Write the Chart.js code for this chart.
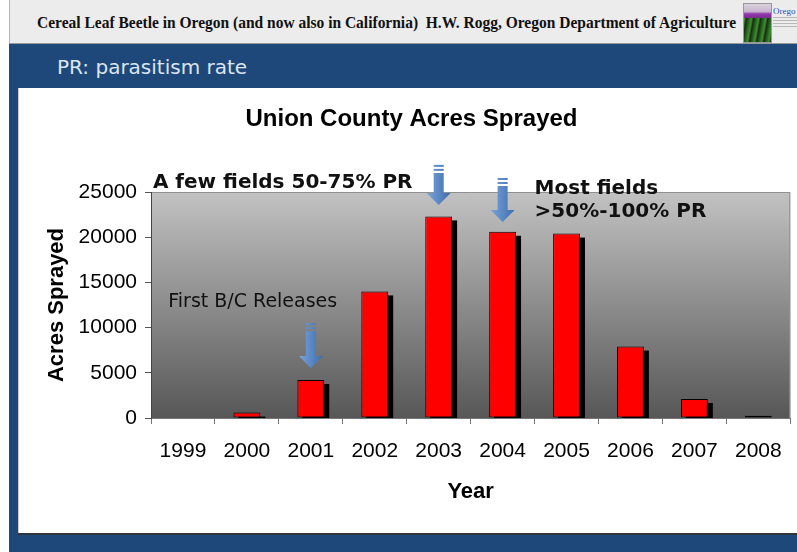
<!DOCTYPE html>
<html>
<head>
<meta charset="utf-8">
<script src="https://cdn.jsdelivr.net/npm/chart.js@4.4.1/dist/chart.umd.min.js"></script>
<style>
  html, body { margin: 0; padding: 0; background: #fff; }
  body { width: 797px; height: 552px; position: relative; overflow: hidden; }
  #header {
    position: absolute; left: 9px; top: 0; width: 788px; height: 43px;
    background: #ececec; border-left: 1px solid #b5b5b5; border-bottom: 1px solid #9a9a9a;
  }
  #header-text {
    position: absolute; left: 27px; top: 14px; white-space: nowrap;
    font: bold 16px "Liberation Serif", "DejaVu Serif", serif; color: #111;
    transform-origin: 0 0;
  }
  #logo {
    position: absolute; left: 743px; top: 3px; width: 27px; height: 38px;
    background:
      linear-gradient(to bottom, #d9d3dc 0%, #c7b4cf 20%, #9437b0 26%, #7b2f93 36%, transparent 36%),
      repeating-linear-gradient(100deg, #1f5a1c 0px, #3f8f2e 3px, #1d2a14 5px, #1f5a1c 7px);
    border: 1px solid #999;
  }
  #logo-text { position: absolute; left: 773px; top: 6px; font: 9px "Liberation Serif", serif; color: #2a52be; }
  #logo-sub { position: absolute; left: 773px; top: 17px; width: 24px; height: 12px;
    background: repeating-linear-gradient(to bottom, #b8b8b8 0 1px, transparent 1px 3px); }
  #band { position: absolute; left: 9px; top: 44px; width: 788px; height: 508px; background: #1f487a; }
  #subtitle {
    position: absolute; left: 57px; top: 55px; color: #dbe5f1;
    font: 20px "DejaVu Sans", "Open Sans", sans-serif;
  }
  #panel {
    position: absolute; left: 18px; top: 88px; width: 779px; height: 445px; background: #fff;
    border-left: 1px solid #c9c9c9; box-sizing: border-box;
    box-shadow: 0 2px 0 #2e3440;
  }
  #chart-wrap { position: absolute; left: 18px; top: 88px; width: 779px; height: 445px; }
</style>
</head>
<body>
<div id="header">
  <div id="header-text">Cereal Leaf Beetle in Oregon (and now also in California)&nbsp; H.W. Rogg, Oregon Department of Agriculture</div>
</div>
<div id="logo"></div>
<div id="logo-text">Orego</div>
<div id="logo-sub"></div>
<div id="band"></div>
<div id="subtitle">PR: parasitism rate</div>
<div id="panel"></div>
<div id="chart-wrap"><canvas id="chart"></canvas></div>

<script>
// fit the header line to the width it takes on the slide
const ht = document.getElementById('header-text');
ht.style.transform = 'scaleX(' + (699 / ht.scrollWidth) + ')';

// data
const years = ['1999', '2000', '2001', '2002', '2003', '2004', '2005', '2006', '2007', '2008'];
const acres = [0, 600, 4200, 14000, 22300, 20600, 20400, 7900, 2100, 250];
const yTicks = [0, 5000, 10000, 15000, 20000, 25000];

// arrows: category, top value, tip value
const arrowYears = ['2001', '2003', '2004'];
const arrowTop = [10500, 28000, 26550];
const arrowTip = [5530, 23560, 21680];

// notes: text, category index of left edge, value at text middle
const noteText = ['A few fields 50-75% PR', 'Most fields', '>50%-100% PR', 'First B/C Releases'];
const noteIndex = [-0.47, 5.5, 5.5, -0.23];
const noteValue = [26000, 25330, 22780, 12830];
const noteBold = [true, true, true, false];

const plotBackground = {
    id: 'plotBackground',
    beforeDraw(chart) {
        const { ctx, chartArea: a } = chart;
        const g = ctx.createLinearGradient(0, a.top, 0, a.bottom);
        g.addColorStop(0, '#c2c2c2');
        g.addColorStop(1, '#575757');
        ctx.save();
        ctx.fillStyle = g;
        ctx.fillRect(a.left, a.top, a.right - a.left, a.bottom - a.top);
        ctx.strokeStyle = '#8f8f8f';
        ctx.lineWidth = 1;
        ctx.beginPath();
        ctx.moveTo(a.left, a.top + 0.5);
        ctx.lineTo(a.right - 0.5, a.top + 0.5);
        ctx.lineTo(a.right - 0.5, a.bottom);
        ctx.stroke();
        ctx.restore();
    }
};

// black drop shadow behind every bar
const barShadow = {
    id: 'barShadow',
    beforeDatasetsDraw(chart) {
        const { ctx, chartArea: a } = chart;
        const bars = chart.getDatasetMeta(0).data;
        ctx.save();
        ctx.beginPath();
        ctx.rect(a.left, a.top, a.right - a.left, a.bottom - a.top);
        ctx.clip();
        ctx.fillStyle = '#000';
        bars.forEach(b => {
            const h = b.base - b.y;
            if (h <= 0) return;
            ctx.fillRect(b.x - b.width / 2 + 5, b.y + 4, b.width, h);
        });
        ctx.restore();
    }
};

const notes = {
    id: 'notes',
    afterDraw(chart) {
        const { ctx } = chart;
        const xs = chart.scales.x, ys = chart.scales.y;
        ctx.save();

        // blue arrows
        arrowYears.forEach((yr, i) => {
            const cx = xs.getPixelForValue(years.indexOf(yr));
            const y0 = ys.getPixelForValue(arrowTop[i]);
            const y1 = ys.getPixelForValue(arrowTip[i]);
            const g = ctx.createLinearGradient(cx - 12, 0, cx + 12, 0);
            g.addColorStop(0, '#7ea3d4');
            g.addColorStop(0.5, '#5a89c5');
            g.addColorStop(1, '#3d6ba6');
            ctx.fillStyle = g;
            ctx.fillRect(cx - 5, y0, 10, 2);
            ctx.fillRect(cx - 5, y0 + 4, 10, 2);
            ctx.beginPath();
            ctx.moveTo(cx - 5, y0 + 8);
            ctx.lineTo(cx + 5, y0 + 8);
            ctx.lineTo(cx + 5, y1 - 12);
            ctx.lineTo(cx + 12, y1 - 12);
            ctx.lineTo(cx, y1);
            ctx.lineTo(cx - 12, y1 - 12);
            ctx.lineTo(cx - 5, y1 - 12);
            ctx.closePath();
            ctx.fill();
        });

        // text notes
        ctx.textAlign = 'left';
        ctx.textBaseline = 'middle';
        noteText.forEach((t, i) => {
            ctx.font = noteBold[i] ? 'bold 20px "DejaVu Sans"' : '19px "DejaVu Sans"';
            ctx.fillStyle = '#111';
            ctx.fillText(t, xs.getPixelForValue(noteIndex[i]), ys.getPixelForValue(noteValue[i]));
        });
        ctx.restore();
    }
};

const tickFont = { family: '"Liberation Sans", Arial, sans-serif', size: 21 };
const titleFont = { family: '"Liberation Sans", Arial, sans-serif', size: 22, weight: 'bold' };

new Chart(document.getElementById('chart'), {
    type: 'bar',
    data: {
        labels: years,
        datasets: [{
            data: acres,
            backgroundColor: '#ff0000',
            borderColor: '#000',
            borderWidth: 1,
            borderSkipped: false,
            barPercentage: 0.42,
            categoryPercentage: 1,
        }],
    },
    options: {
        responsive: true,
        maintainAspectRatio: false,
        animation: false,
        layout: { padding: { left: 14, right: 6, top: 0, bottom: 0 } },
        plugins: {
            legend: { display: false },
            tooltip: { enabled: false },
            title: {
                display: true,
                text: 'Union County Acres Sprayed',
                color: '#000',
                font: { family: '"Liberation Sans", Arial, sans-serif', size: 24, weight: 'bold' },
                padding: { top: 16.6, bottom: 58.6 },
            },
        },
        scales: {
            x: {
                offset: true,
                grid: { offset: true, drawOnChartArea: false, drawTicks: true, tickLength: 6, color: '#777' },
                border: { color: '#777', width: 1 },
                ticks: { color: '#000', font: tickFont, padding: 15, maxRotation: 0, autoSkip: false },
                title: { display: true, text: 'Year', color: '#000', font: titleFont, padding: { top: 0, bottom: 28 } },
                afterFit(scale) { scale.height = 115; },
            },
            y: {
                min: 0,
                max: 25000,
                afterBuildTicks(scale) { scale.ticks = yTicks.map(v => ({ value: v })); },
                grid: { drawOnChartArea: false, drawTicks: true, tickLength: 6, color: '#555' },
                border: { color: '#444', width: 1 },
                ticks: { color: '#000', font: tickFont, padding: 8, callback: v => String(v) },
                title: { display: true, text: 'Acres Sprayed', color: '#000', font: titleFont, padding: { top: 12, bottom: 0 } },
                afterFit(scale) { scale.width = 119; },
            },
        },
    },
    plugins: [plotBackground, barShadow, notes],
});
</script>
</body>
</html>
